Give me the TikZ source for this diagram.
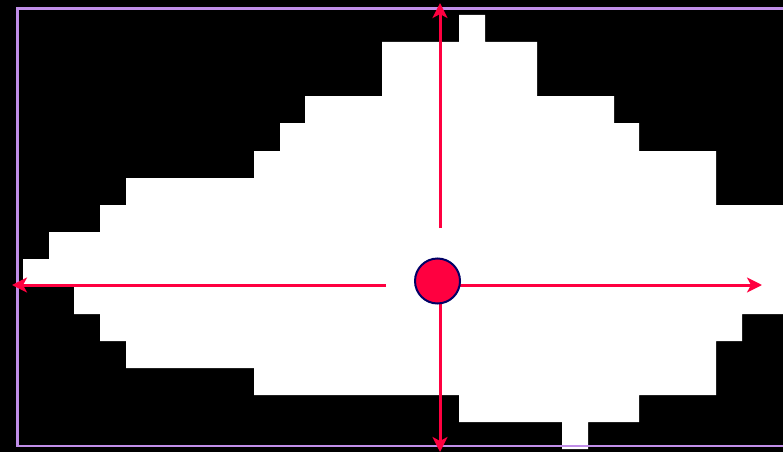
\documentclass[tikz,border=0pt]{standalone}
\usetikzlibrary{arrows.meta}
\definecolor{arrowred}{RGB}{255,0,64}
\definecolor{framepurple}{RGB}{192,142,232}
\definecolor{navyedge}{RGB}{0,0,102}
\tikzset{
  axisarrow/.style={draw=arrowred, line width=3pt, -{Stealth[length=15pt,width=15pt,inset=4pt]}},
  centerdot/.style={circle, fill=arrowred, draw=navyedge, line width=2pt, minimum size=45pt, inner sep=0pt},
  frameline/.style={draw=framepurple, line width=2.8pt}
}
\begin{document}
\begin{tikzpicture}[x=1pt,y=-1pt]
\useasboundingbox (0,0) rectangle (783,452);
\fill[black] (0,0) rectangle (783,452);
% white pixel blob
\fill[white] (459,15) -- (485,15) -- (485,42) -- (537,42) -- (537,96) -- (614,96) -- (614,123) -- (639,123) -- (639,151) -- (716,151) -- (716,205) -- (790,205) -- (790,314) -- (742,314) -- (742,341) -- (716,341) -- (716,395) -- (639,395) -- (639,422) -- (588,422) -- (588,449) -- (562,449) -- (562,422) -- (459,422) -- (459,395) -- (254,395) -- (254,368) -- (126,368) -- (126,341) -- (100,341) -- (100,314) -- (74,314) -- (74,286) -- (23,286) -- (23,259) -- (49,259) -- (49,232) -- (100,232) -- (100,205) -- (126,205) -- (126,178) -- (254,178) -- (254,151) -- (280,151) -- (280,123) -- (305,123) -- (305,96) -- (382,96) -- (382,42) -- (459,42) -- cycle;
% frame
\draw[frameline] (800,8.5) -- (17.5,8.5) -- (17.5,446) -- (800,446);
% coordinates
\coordinate (upstart) at (440,228);
\coordinate (uptip) at (440,3);
\coordinate (leftstart) at (386,285);
\coordinate (lefttip) at (12,285);
\coordinate (rightstart) at (457,285);
\coordinate (righttip) at (762,285);
\coordinate (downstart) at (440,300);
\coordinate (downtip) at (440,452);
\draw[axisarrow] (upstart) -- (uptip);
\draw[axisarrow] (leftstart) -- (lefttip);
\draw[axisarrow] (rightstart) -- (righttip);
\draw[axisarrow] (downstart) -- (downtip);
\node[centerdot] (center) at (437.5,281) {};
\end{tikzpicture}
\end{document}
